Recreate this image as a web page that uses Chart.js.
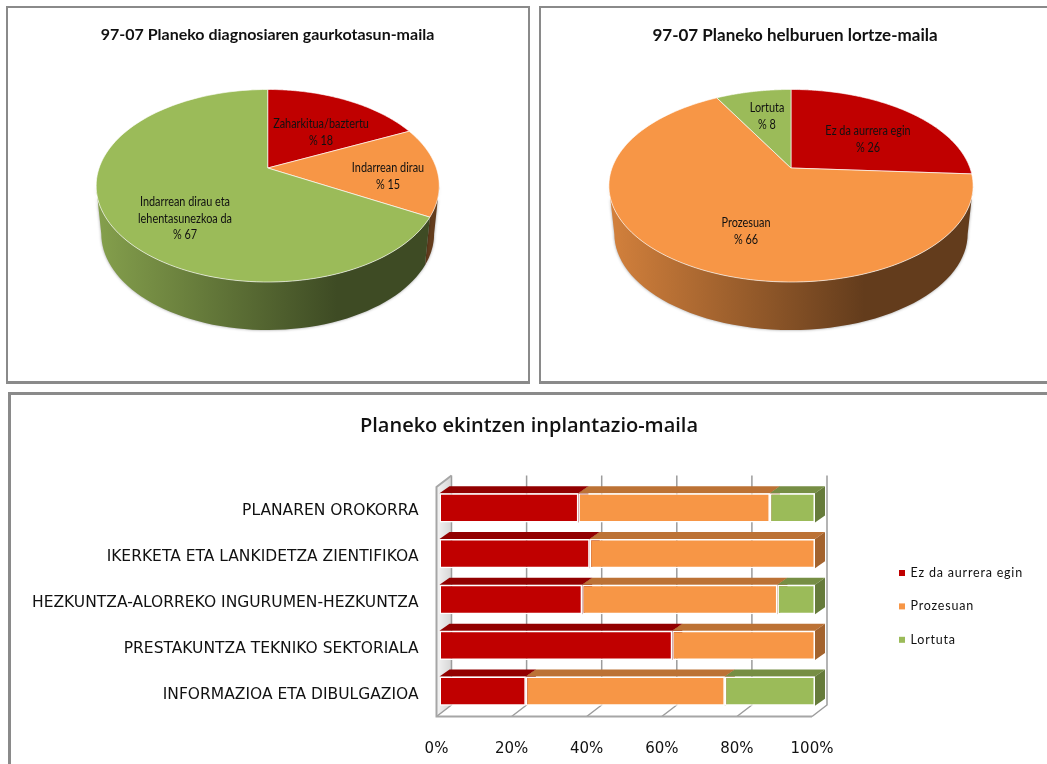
<!DOCTYPE html>
<html>
<head>
<meta charset="utf-8">
<script src="https://cdn.jsdelivr.net/npm/chart.js@4/dist/chart.umd.js"></script>
<style>
  html, body { margin: 0; padding: 0; background: #fff; overflow: hidden; }
  .panel { position: absolute; box-sizing: border-box; border: 2px solid #8a8a8a; border-bottom-width: 3px; background: #fff; }
  canvas { position: absolute; }
</style>
</head>
<body>
<div class="panel" style="left:6px;top:6px;width:524px;height:378px"></div>
<div class="panel" style="left:539px;top:6px;width:540px;height:378px"></div>
<div class="panel" style="left:8px;top:392px;width:1070px;height:400px;border-width:3px"></div>
<canvas id="pieDiagnosis" style="left:8px;top:8px" width="519" height="373"></canvas>
<canvas id="pieGoals" style="left:543px;top:8px" width="504" height="373"></canvas>
<canvas id="barActions" style="left:11px;top:395px" width="1036" height="369"></canvas>
<script>
// Data
const diagnosisTitle = '97-07 Planeko diagnosiaren gaurkotasun-maila';
const diagnosisLabels = ['Zaharkitua/baztertu', 'Indarrean dirau', ['Indarrean dirau eta', 'lehentasunezkoa da']];
const diagnosisValues = [18, 15, 67];

const goalsTitle = '97-07 Planeko helburuen lortze-maila';
const goalsLabels = ['Ez da aurrera egin', 'Prozesuan', 'Lortuta'];
const goalsValues = [26, 66, 8];

const actionsTitle = 'Planeko ekintzen inplantazio-maila';
const actionCategories = [
  'PLANAREN OROKORRA',
  'IKERKETA ETA LANKIDETZA ZIENTIFIKOA',
  'HEZKUNTZA-ALORREKO INGURUMEN-HEZKUNTZA',
  'PRESTAKUNTZA TEKNIKO SEKTORIALA',
  'INFORMAZIOA ETA DIBULGAZIOA'
];
const notStarted = [37, 40, 38, 62, 23];
const inProcess = [51, 60, 52, 38, 53];
const achieved = [12, 0, 10, 0, 24];
const percentTicks = [0, 20, 40, 60, 80, 100];

const RED = '#c00000';
const ORANGE = '#f79646';
const GREEN = '#9bbb59';
const LATO = 'Lato, sans-serif';
const BAR_FONT = '"DejaVu Sans", sans-serif';

function shade(hex, k) {
  const n = parseInt(hex.slice(1), 16);
  const c = [n >> 16, (n >> 8) & 255, n & 255].map(v => Math.round(v * k));
  return `rgb(${c[0]},${c[1]},${c[2]})`;
}

// Tilted pie: the library works out the slice angles, this plugin projects them
const tiltedPie = {
  id: 'tiltedPie',
  beforeDatasetDraw(chart, args, opts) {
    const { ctx } = chart;
    const slices = chart.getDatasetMeta(0).data;
    const colors = chart.data.datasets[0].backgroundColor;
    const p = -0.1844, B = 93, depth = 48, taper = 0.97;
    const project = a => {
      const d = 1 + p * Math.sin(a);
      return [opts.cx + opts.A * Math.cos(a) / d, opts.cy + B * Math.sin(a) / d];
    };
    const front = [0.188, Math.PI - 0.188];

    // side walls first
    slices.forEach((arc, i) => {
      const s = Math.max(arc.startAngle, front[0]);
      const e = Math.min(arc.endAngle, front[1]);
      if (e <= s) return;
      const top = [];
      for (let k = 0; k <= 60; k++) top.push(project(s + (e - s) * k / 60));
      const grad = ctx.createLinearGradient(opts.cx - opts.A, 0, opts.cx + opts.A * 0.41, 0);
      grad.addColorStop(0, shade(colors[i], 0.85));
      grad.addColorStop(1, shade(colors[i], 0.4));
      ctx.save();
      ctx.shadowColor = 'rgba(0,0,0,0.4)';
      ctx.shadowBlur = 3;
      ctx.fillStyle = grad;
      ctx.beginPath();
      top.forEach(pt => ctx.lineTo(pt[0], pt[1]));
      top.slice().reverse().forEach(pt => ctx.lineTo(opts.cx + (pt[0] - opts.cx) * taper, pt[1] + depth));
      ctx.closePath();
      ctx.fill();
      ctx.restore();
    });

    // top face
    slices.forEach((arc, i) => {
      ctx.beginPath();
      ctx.moveTo(opts.cx, opts.cy);
      for (let k = 0; k <= 120; k++) {
        const pt = project(arc.startAngle + (arc.endAngle - arc.startAngle) * k / 120);
        ctx.lineTo(pt[0], pt[1]);
      }
      ctx.closePath();
      ctx.fillStyle = colors[i];
      ctx.fill();
      ctx.strokeStyle = 'rgba(255,255,255,0.8)';
      ctx.lineWidth = 0.8;
      ctx.stroke();
    });
    return false;
  },
  afterDatasetsDraw(chart, args, opts) {
    const { ctx } = chart;
    const values = chart.data.datasets[0].data;
    ctx.save();
    ctx.font = '12.5px ' + LATO;
    ctx.fillStyle = '#111';
    ctx.textAlign = 'center';
    ctx.textBaseline = 'middle';
    chart.data.labels.forEach((label, i) => {
      const lines = [].concat(label, '% ' + values[i]);
      lines.forEach((line, j) => {
        // squeezed a bit, the original font is narrower than Lato
        ctx.save();
        ctx.translate(opts.labelPos[i][0], opts.labelPos[i][1] + j * 16.5);
        ctx.scale(0.87, 1);
        ctx.fillText(line, 0, 0);
        ctx.restore();
      });
    });
    ctx.restore();
  }
};

function pieChart(id, title, titleSize, labels, values, colors, view) {
  return new Chart(document.getElementById(id), {
    type: 'pie',
    data: { labels: labels, datasets: [{ data: values, backgroundColor: colors }] },
    options: {
      responsive: false,
      animation: false,
      plugins: {
        legend: { display: false },
        tooltip: { enabled: false },
        title: {
          display: true,
          text: title,
          color: '#111',
          font: { family: LATO, size: titleSize, weight: '700' },
          padding: { top: 17, bottom: 10 }
        },
        tiltedPie: view
      }
    },
    plugins: [tiltedPie]
  });
}

pieChart('pieDiagnosis', diagnosisTitle, 16, diagnosisLabels, diagnosisValues, [RED, ORANGE, GREEN], {
  cx: 259.7, cy: 160, A: 168.6,
  labelPos: [[313, 116], [380, 160], [177, 194]]
});
pieChart('pieGoals', goalsTitle, 17, goalsLabels, goalsValues, [RED, ORANGE, GREEN], {
  cx: 248, cy: 160, A: 179,
  labelPos: [[325, 123], [203, 215], [224, 100]]
});

// 3D box look of the bar chart, everything hangs on the library's scales
const boxFrame = {
  id: 'boxFrame',
  beforeDatasetsDraw(chart) {
    const { ctx, chartArea, scales } = chart;
    const x = scales.x;
    const floor = chartArea.bottom - 1;
    const dx = 15, dy = 11.5;
    const backTop = floor - 241;
    const frontTop = backTop + 11.5;
    const left = x.getPixelForValue(0);
    const right = x.getPixelForValue(100);

    ctx.save();
    // left wall
    const wall = ctx.createLinearGradient(left, 0, left + dx, 0);
    wall.addColorStop(0, '#f4f4f4');
    wall.addColorStop(1, '#d6d6d6');
    ctx.fillStyle = wall;
    ctx.beginPath();
    ctx.moveTo(left, frontTop);
    ctx.lineTo(left + dx, backTop);
    ctx.lineTo(left + dx, floor - dy);
    ctx.lineTo(left, floor);
    ctx.closePath();
    ctx.fill();

    ctx.strokeStyle = '#9c9c9c';
    ctx.lineWidth = 1.5;
    percentTicks.forEach(t => {
      const px = x.getPixelForValue(t);
      ctx.beginPath();
      ctx.moveTo(px + dx, backTop);
      ctx.lineTo(px + dx, floor - dy);
      ctx.lineTo(px, floor);
      ctx.stroke();
    });

    ctx.strokeStyle = '#a6a6a6';
    ctx.lineWidth = 2;
    ctx.beginPath();
    ctx.moveTo(left + dx, backTop);
    ctx.lineTo(left, frontTop);
    ctx.lineTo(left, floor);
    ctx.lineTo(right, floor);
    ctx.stroke();
    ctx.restore();

    // bars sit a little inside the box
    ctx.save();
    ctx.translate(3, -3.5);
    chart.data.datasets.forEach((ds, i) => {
      chart.getDatasetMeta(i).data.forEach(bar => {
        const w = bar.x - bar.base;
        if (w <= 0) return;
        const top = bar.y - bar.height / 2;
        const bottom = bar.y + bar.height / 2;
        ctx.fillStyle = shade(ds.backgroundColor, 0.76);
        ctx.beginPath();
        ctx.moveTo(bar.base, top);
        ctx.lineTo(bar.base + 10, top - 7);
        ctx.lineTo(bar.x + 10, top - 7);
        ctx.lineTo(bar.x, top);
        ctx.closePath();
        ctx.fill();
        ctx.fillStyle = shade(ds.backgroundColor, 0.66);
        ctx.beginPath();
        ctx.moveTo(bar.x, top);
        ctx.lineTo(bar.x + 10, top - 7);
        ctx.lineTo(bar.x + 10, bottom - 7);
        ctx.lineTo(bar.x, bottom);
        ctx.closePath();
        ctx.fill();
      });
    });
  },
  afterDatasetsDraw(chart) {
    const { ctx } = chart;
    ctx.restore();

    // legend
    ctx.save();
    ctx.font = '12.5px ' + LATO;
    ctx.letterSpacing = '0.8px';
    ctx.textBaseline = 'middle';
    chart.data.datasets.forEach((ds, i) => {
      const y = 178 + i * 33.4;
      ctx.fillStyle = ds.backgroundColor;
      ctx.fillRect(888, y - 3, 6, 6);
      ctx.fillStyle = '#111';
      ctx.fillText(ds.label, 899.5, y);
    });
    ctx.restore();
  }
};

const barStyle = { borderColor: '#fff', borderWidth: 1.5, borderSkipped: false, barPercentage: 0.64, categoryPercentage: 1 };

new Chart(document.getElementById('barActions'), {
  type: 'bar',
  data: {
    labels: actionCategories,
    datasets: [
      { label: goalsLabels[0], data: notStarted, backgroundColor: RED, ...barStyle },
      { label: goalsLabels[1], data: inProcess, backgroundColor: ORANGE, ...barStyle },
      { label: goalsLabels[2], data: achieved, backgroundColor: GREEN, ...barStyle }
    ]
  },
  options: {
    indexAxis: 'y',
    responsive: false,
    animation: false,
    scales: {
      x: {
        stacked: true,
        min: 0,
        max: 100,
        afterFit: s => { s.height = 46.5; },
        afterBuildTicks: s => { s.ticks = percentTicks.map(v => ({ value: v })); },
        grid: { display: false },
        border: { display: false },
        ticks: {
          padding: 15,
          maxRotation: 0,
          color: '#111',
          font: { family: BAR_FONT, size: 15 },
          callback: v => v + '%'
        }
      },
      y: {
        stacked: true,
        afterFit: s => { s.width = 425.5; },
        grid: { display: false },
        border: { display: false },
        ticks: {
          padding: 10,
          color: '#111',
          font: { family: BAR_FONT, size: 15.5 }
        }
      },
      // empty axis, only holds the room for the legend so the title stays centred on the panel
      yLegendRoom: {
        type: 'linear',
        axis: 'y',
        position: 'right',
        afterFit: s => { s.width = 235; },
        grid: { display: false },
        border: { display: false },
        ticks: { display: false }
      }
    },
    plugins: {
      legend: { display: false },
      tooltip: { enabled: false },
      title: {
        display: true,
        text: actionsTitle,
        color: '#111',
        font: { family: '"Open Sans", sans-serif', size: 20, weight: '600' },
        padding: { top: 19, bottom: 50.5 }
      }
    }
  },
  plugins: [boxFrame]
});
</script>
</body>
</html>
